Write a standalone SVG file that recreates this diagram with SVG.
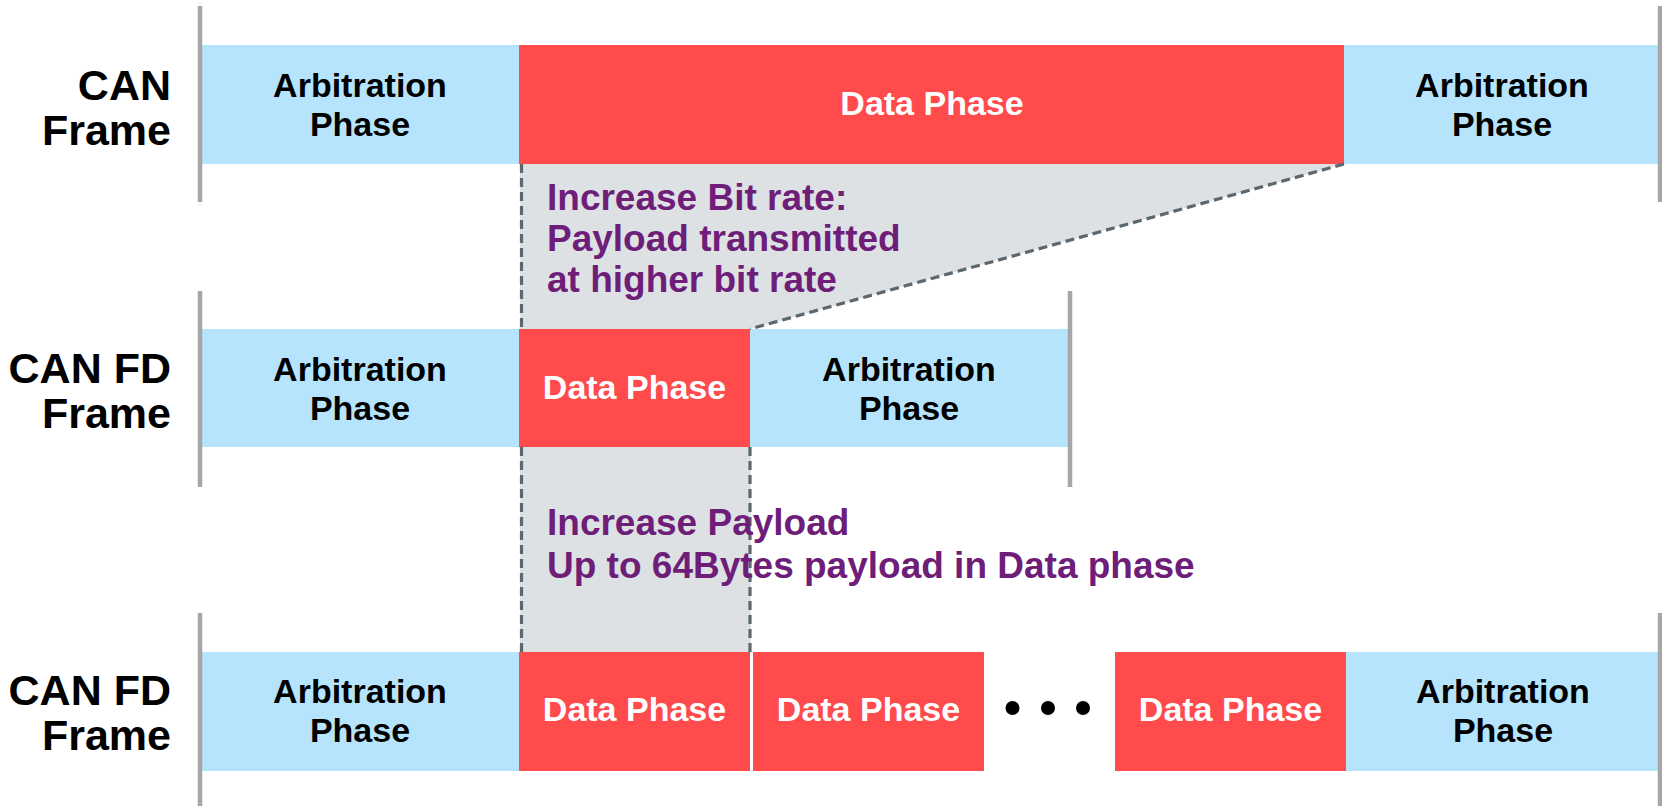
<svg xmlns="http://www.w3.org/2000/svg" width="1662" height="806" viewBox="0 0 1662 806">
  <style>
    .arb { fill: #b5e4fc; }
    .data { fill: #ff4b4b; }
    .tick { stroke: #a6a6a6; stroke-width: 4.5; }
    .lbl { font-family: "Liberation Sans", Arial, sans-serif; font-weight: bold; font-size: 43px; fill: #000; text-anchor: end; }
    .arbt { font-family: "Liberation Sans", Arial, sans-serif; font-weight: bold; font-size: 34px; fill: #000; text-anchor: middle; }
    .datat { font-family: "Liberation Sans", Arial, sans-serif; font-weight: bold; font-size: 34px; fill: #fff; text-anchor: middle; }
    .note { font-family: "Liberation Sans", Arial, sans-serif; font-weight: bold; font-size: 37px; fill: #6e1e78; }
    .zone { fill: #dde1e4; }
    .dash { stroke: #5c6870; stroke-width: 3.2; stroke-dasharray: 9 5; fill: none; }
  </style>

  <!-- shaded projection areas between the frames -->
  <g id="projections">
    <polygon class="zone" points="520,164 1344,164 750,329 520,329"/>
    <rect class="zone" x="520" y="447" width="231" height="205"/>
  </g>

  <!-- Row 1: classic CAN frame -->
  <g id="row-can">
    <text class="lbl" x="171" y="100">CAN</text>
    <text class="lbl" x="171" y="145">Frame</text>
  </g>
  <g id="can-arb1">
    <rect class="arb" x="200" y="45" width="319" height="119"/>
    <text class="arbt" x="360" y="97">Arbitration</text>
    <text class="arbt" x="360" y="136">Phase</text>
  </g>
  <g id="can-data">
    <rect class="data" x="519" y="45" width="825" height="119"/>
    <text class="datat" x="932" y="115">Data Phase</text>
  </g>
  <g id="can-arb2">
    <rect class="arb" x="1344" y="45" width="318" height="119"/>
    <text class="arbt" x="1502" y="97">Arbitration</text>
    <text class="arbt" x="1502" y="136">Phase</text>
  </g>

  <!-- Row 2: CAN FD frame, faster data phase -->
  <g id="row-canfd1">
    <text class="lbl" x="171" y="383">CAN FD</text>
    <text class="lbl" x="171" y="428">Frame</text>
  </g>
  <g id="fd1-arb1">
    <rect class="arb" x="200" y="329" width="319" height="118"/>
    <text class="arbt" x="360" y="381">Arbitration</text>
    <text class="arbt" x="360" y="420">Phase</text>
  </g>
  <g id="fd1-data">
    <rect class="data" x="519" y="329" width="231" height="118"/>
    <text class="datat" x="634.5" y="399">Data Phase</text>
  </g>
  <g id="fd1-arb2">
    <rect class="arb" x="750" y="329" width="320" height="118"/>
    <text class="arbt" x="909" y="381">Arbitration</text>
    <text class="arbt" x="909" y="420">Phase</text>
  </g>

  <!-- Row 3: CAN FD frame, longer payload -->
  <g id="row-canfd2">
    <text class="lbl" x="171" y="705">CAN FD</text>
    <text class="lbl" x="171" y="750">Frame</text>
  </g>
  <g id="fd2-arb1">
    <rect class="arb" x="200" y="652" width="319" height="119"/>
    <text class="arbt" x="360" y="703">Arbitration</text>
    <text class="arbt" x="360" y="742">Phase</text>
  </g>
  <g id="fd2-data1">
    <rect class="data" x="519" y="652" width="231" height="119"/>
    <text class="datat" x="634.5" y="721">Data Phase</text>
  </g>
  <g id="fd2-data2">
    <rect class="data" x="753" y="652" width="231" height="119"/>
    <text class="datat" x="868.5" y="721">Data Phase</text>
  </g>
  <g id="fd2-ellipsis">
    <circle cx="1012.5" cy="708" r="7" fill="#000"/>
    <circle cx="1048" cy="708" r="7" fill="#000"/>
    <circle cx="1083" cy="708" r="7" fill="#000"/>
  </g>
  <g id="fd2-data3">
    <rect class="data" x="1115" y="652" width="231" height="119"/>
    <text class="datat" x="1230.5" y="721">Data Phase</text>
  </g>
  <g id="fd2-arb2">
    <rect class="arb" x="1346" y="652" width="316" height="119"/>
    <text class="arbt" x="1503" y="703">Arbitration</text>
    <text class="arbt" x="1503" y="742">Phase</text>
  </g>

  <!-- frame boundary ticks -->
  <g id="ticks">
    <line class="tick" x1="200" y1="6" x2="200" y2="202"/>
    <line class="tick" x1="1660" y1="6" x2="1660" y2="202"/>
    <line class="tick" x1="200" y1="291" x2="200" y2="487"/>
    <line class="tick" x1="1070" y1="291" x2="1070" y2="487"/>
    <line class="tick" x1="200" y1="613" x2="200" y2="806"/>
    <line class="tick" x1="1660" y1="613" x2="1660" y2="806"/>
  </g>

  <!-- dashed projection connectors -->
  <g id="connectors">
    <line class="dash" x1="521.5" y1="164" x2="521.5" y2="329"/>
    <line class="dash" x1="1344" y1="164" x2="750" y2="329"/>
    <line class="dash" x1="521.5" y1="447" x2="521.5" y2="652"/>
    <line class="dash" x1="750" y1="447" x2="750" y2="652"/>
  </g>

  <!-- annotations -->
  <g id="note-bitrate">
    <text class="note" x="547" y="210">Increase Bit rate:</text>
    <text class="note" x="547" y="251">Payload transmitted</text>
    <text class="note" x="547" y="292">at higher bit rate</text>
  </g>
  <g id="note-payload">
    <text class="note" x="547" y="535">Increase Payload</text>
    <text class="note" x="547" y="578">Up to 64Bytes payload in Data phase</text>
  </g>
</svg>
